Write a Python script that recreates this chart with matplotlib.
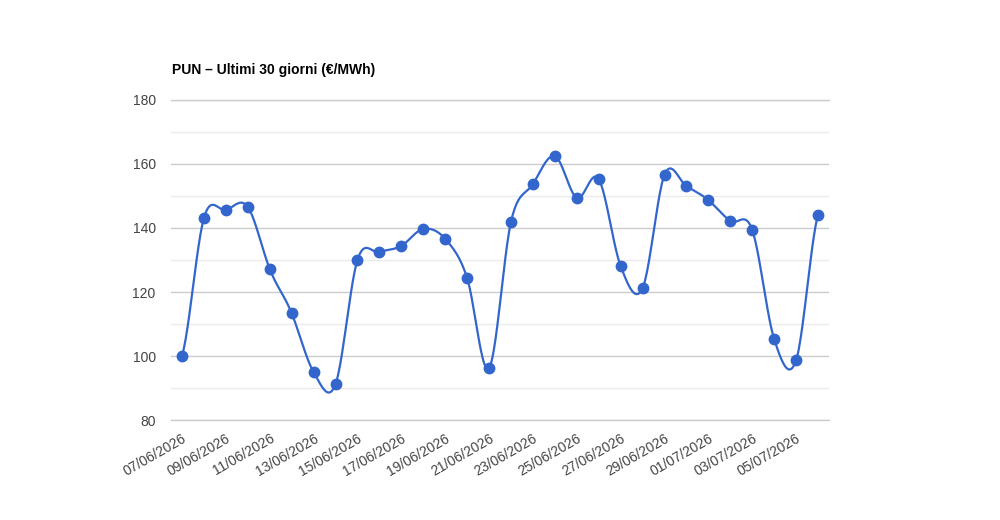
import matplotlib
matplotlib.use("Agg")
import matplotlib.pyplot as plt
import numpy as np

plt.rcParams['font.family'] = ['Liberation Sans', 'DejaVu Sans']

dates = ['07/06/2026', '08/06/2026', '09/06/2026', '10/06/2026', '11/06/2026',
         '12/06/2026', '13/06/2026', '14/06/2026', '15/06/2026', '16/06/2026',
         '17/06/2026', '18/06/2026', '19/06/2026', '20/06/2026', '21/06/2026',
         '22/06/2026', '23/06/2026', '24/06/2026', '25/06/2026', '26/06/2026',
         '27/06/2026', '28/06/2026', '29/06/2026', '30/06/2026', '01/07/2026',
         '02/07/2026', '03/07/2026', '04/07/2026', '05/07/2026', '06/07/2026']
pun = [100.0, 143.1, 145.6, 146.6, 127.2, 113.4, 95.0, 91.2, 130.0, 132.5,
       134.4, 139.7, 136.6, 124.4, 96.2, 141.9, 153.7, 162.5, 149.4, 155.3,
       128.1, 121.2, 156.6, 153.1, 148.7, 142.2, 139.4, 105.3, 98.7, 144.1]

color = '#3366cc'

x = np.arange(len(pun))
y = np.array(pun)

# smoothed line (cubic bezier through the points, like curveType 'function')
k = 0.35
xs, ys = [], []
t = np.linspace(0, 1, 25)
for i in range(len(y) - 1):
    y0 = y[i - 1] if i > 0 else y[i]
    y3 = y[i + 2] if i + 2 < len(y) else y[i + 1]
    c1 = y[i] + (y[i + 1] - y0) * k / 2
    c2 = y[i + 1] - (y3 - y[i]) * k / 2
    px = x[i] + t
    py = ((1 - t) ** 3 * y[i] + 3 * (1 - t) ** 2 * t * c1
          + 3 * (1 - t) * t ** 2 * c2 + t ** 3 * y[i + 1])
    xs.extend(px)
    ys.extend(py)

fig = plt.figure(figsize=(10, 5.2), dpi=100)
ax = fig.add_axes([0.171, 0.1923, 0.658, 0.6154])

ax.plot(xs, ys, color=color, lw=1.6, zorder=3)
ax.plot(x, y, 'o', color=color, ms=7.5, zorder=4)

ax.set_xlim(-0.5, len(pun) - 0.5)
ax.set_ylim(80, 180)
ax.set_yticks([80, 100, 120, 140, 160, 180])
ax.set_yticks([90, 110, 130, 150, 170], minor=True)
ax.grid(axis='y', which='major', color='#cccccc', lw=1)
ax.grid(axis='y', which='minor', color='#ebebeb', lw=1)
ax.axhline(80, color='#cccccc', lw=1, clip_on=False, zorder=1)
ax.axhline(180, color='#cccccc', lw=1, clip_on=False, zorder=1)
ax.set_axisbelow(True)

ax.set_xticks(x[::2])
ax.set_xticklabels(dates[::2], rotation=30, ha='right', va='top',
                   rotation_mode='anchor')
ax.tick_params(axis='both', which='both', length=0, labelsize=10,
               labelcolor='#444444')
ax.tick_params(axis='x', pad=8)
ax.tick_params(axis='y', pad=11)

for s in ax.spines.values():
    s.set_visible(False)

fig.text(0.172, 0.858, 'PUN – Ultimi 30 giorni (€/MWh)', fontsize=10,
         fontweight='bold', color='#000000')

fig.savefig('out.png', dpi=100, facecolor='white')
